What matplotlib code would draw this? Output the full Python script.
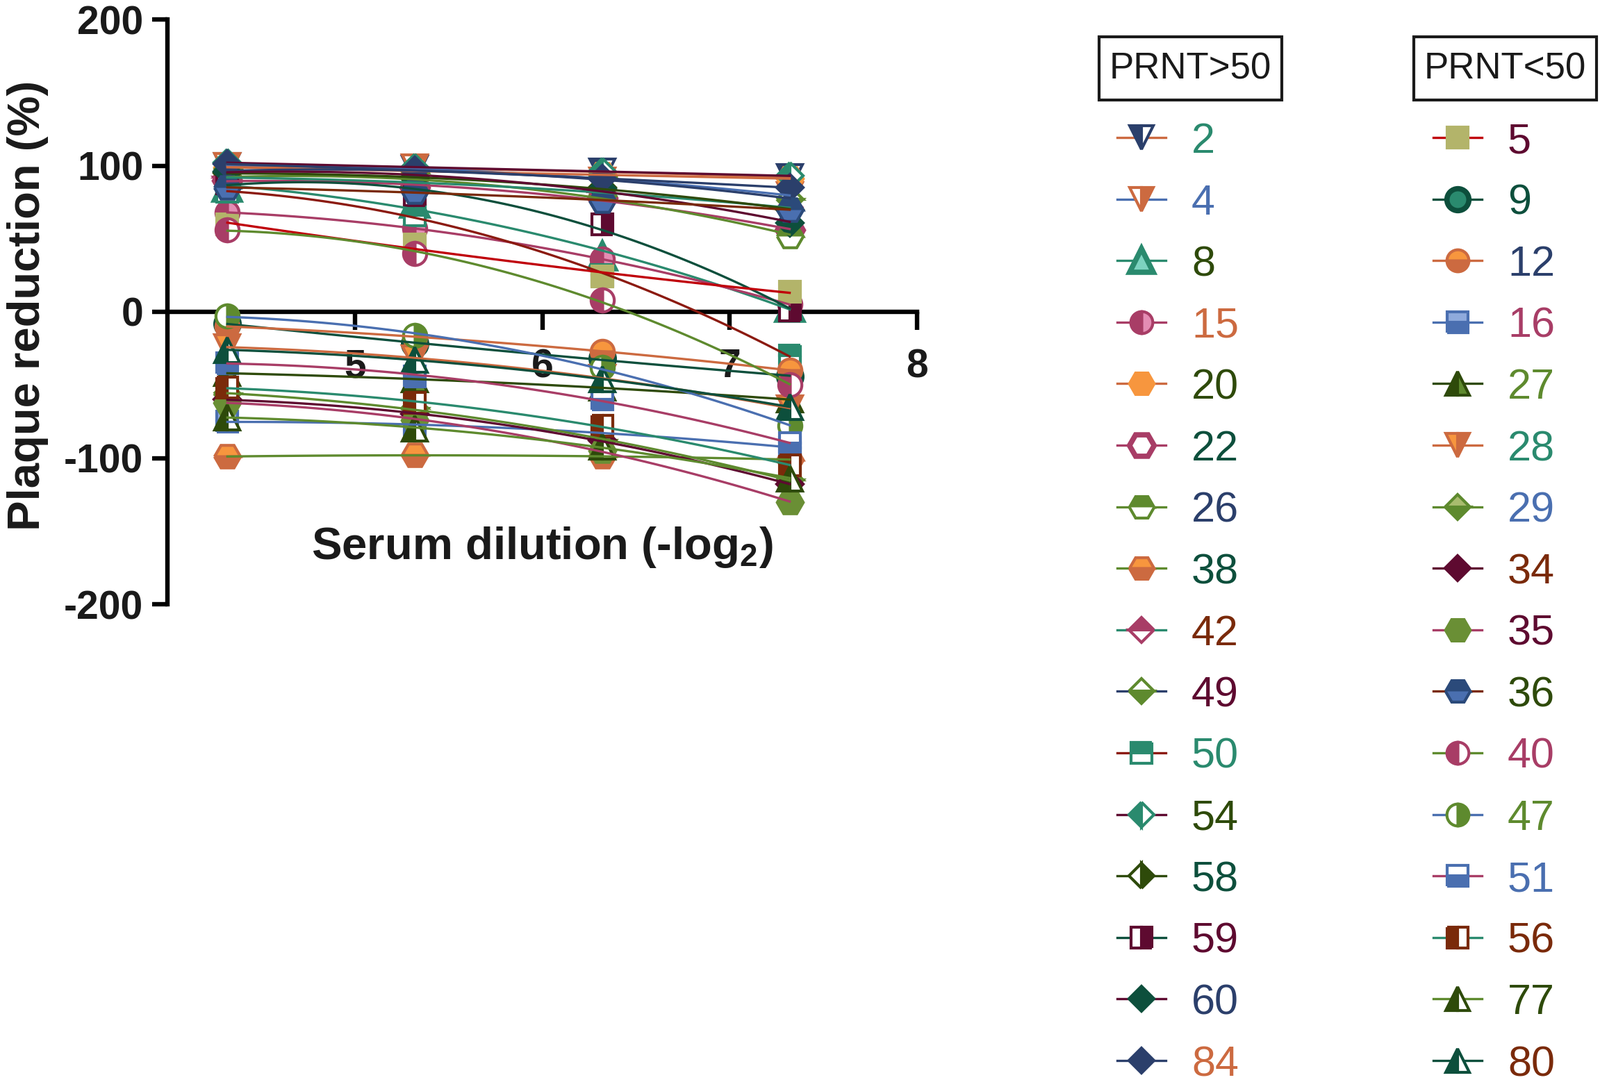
import numpy as np
import matplotlib
matplotlib.use("Agg")
import matplotlib.pyplot as plt
from matplotlib.patches import Rectangle

plt.rcParams['font.family'] = ['Liberation Sans', 'DejaVu Sans']
plt.rcParams['mathtext.fontset'] = 'custom'
plt.rcParams['mathtext.bf'] = 'Liberation Sans:bold'
plt.rcParams['mathtext.rm'] = 'Liberation Sans:bold'
plt.rcParams['axes.unicode_minus'] = False

# serum dilution (-log2) of 1:20, 1:40, 1:80, 1:160
dilution = [4.32, 5.32, 6.32, 7.32]

# PRNT>50 group
ids_gt50 = ['2', '4', '8', '15', '20', '22', '26', '38',
            '42', '49', '50', '54', '58', '59', '60', '84']
values_gt50 = [
    [100, 98, 96, 92],     # 2
    [100, 99, 90, 80],     # 4
    [85, 74, 38, 3],       # 8
    [68, 57, 36, 5],       # 15
    [99, 96, 94, 91],      # 20
    [90, 85, 78, 56],      # 22
    [93, 88, 80, 52],      # 26
    [-99, -98, -99, -101], # 38
    [92, 88, 82, 71],      # 42
    [97, 95, 92, 77],      # 49
    [82, 66, 25, -30],     # 50
    [102, 99, 96, 93],     # 54
    [95, 91, 85, 70],      # 58
    [88, 80, 60, 1],       # 59
    [96, 92, 84, 61],      # 60
    [101, 97, 91, 85],     # 84
]

# PRNT<50 group
ids_lt50 = ['5', '9', '12', '16', '27', '28', '29', '34',
            '35', '36', '40', '47', '51', '56', '77', '80']
values_lt50 = [
    [60, 46, 24, 14],      # 5
    [-8, -22, -32, -44],   # 9
    [-10, -17, -27, -40],  # 12
    [-75, -78, -82, -93],  # 16
    [-42, -46, -52, -60],  # 27
    [-24, -32, -45, -66],  # 28
    [-56, -66, -88, -115], # 29
    [-60, -70, -88, -118], # 34
    [-62, -74, -95, -130], # 35
    [85, 82, 76, 70],      # 36
    [56, 40, 8, -50],      # 40
    [-3, -16, -38, -78],   # 47
    [-35, -44, -60, -90],  # 51
    [-52, -62, -78, -105], # 56
    [-72, -80, -92, -114], # 77
    [-26, -33, -46, -65],  # 80
]

teal = '#2A8A6E'
dteal = '#0D4F3C'
navy = '#2B3F6B'
blue = '#4A6FB0'
orange = '#CC6A40'
lorange = '#F7963E'
pink = '#A83D66'
olive = '#5E8A2E'
dgreen = '#2E4A0A'
maroon = '#5E0A30'
brown = '#7A2A0A'
dred = '#8B1A10'
khaki = '#B3B46A'
red = '#C0000A'
W = 'white'

# marker, edge, face, face alt, fillstyle, line colour, label colour
style = {
    '2':  ('v', navy, navy, W, 'left', orange, teal),
    '4':  ('v', orange, orange, W, 'right', blue, blue),
    '8':  ('^', teal, '#7DD3C0', None, 'full', teal, dgreen),
    '15': ('o', pink, pink, '#E48DB4', 'left', pink, orange),
    '20': ('H', lorange, lorange, None, 'full', orange, dgreen),
    '22': ('H', pink, W, None, 'full', pink, dteal),
    '26': ('H', olive, olive, W, 'top', olive, navy),
    '38': ('H', orange, orange, lorange, 'bottom', olive, dteal),
    '42': ('D', pink, pink, W, 'top', teal, brown),
    '49': ('D', olive, olive, W, 'bottom', navy, maroon),
    '50': ('s', teal, teal, W, 'top', dred, teal),
    '54': ('D', teal, teal, W, 'left', maroon, dgreen),
    '58': ('D', dgreen, dgreen, W, 'right', dgreen, dteal),
    '59': ('s', maroon, maroon, W, 'right', dteal, maroon),
    '60': ('D', dteal, dteal, None, 'full', maroon, navy),
    '84': ('D', navy, navy, None, 'full', navy, orange),
    '5':  ('s', khaki, khaki, None, 'full', red, maroon),
    '9':  ('o', dteal, teal, None, 'full', dteal, dteal),
    '12': ('o', orange, orange, lorange, 'bottom', orange, navy),
    '16': ('s', blue, blue, '#8FAADC', 'bottom', blue, pink),
    '27': ('^', dgreen, dgreen, olive, 'left', dgreen, olive),
    '28': ('v', orange, orange, lorange, 'right', orange, teal),
    '29': ('D', olive, olive, '#A9BC6E', 'bottom', olive, blue),
    '34': ('D', maroon, maroon, None, 'full', maroon, brown),
    '35': ('H', '#6A8F35', '#6A8F35', None, 'full', pink, maroon),
    '36': ('H', '#2B4A7A', '#2B4A7A', blue, 'top', brown, dgreen),
    '40': ('o', pink, pink, W, 'left', olive, pink),
    '47': ('o', olive, olive, W, 'right', blue, olive),
    '51': ('s', blue, blue, W, 'bottom', pink, blue),
    '56': ('s', brown, brown, W, 'left', teal, brown),
    '77': ('^', dgreen, dgreen, W, 'left', olive, dgreen),
    '80': ('^', dteal, dteal, W, 'left', dteal, brown),
}
msize = {'s': 22, 'o': 24, '^': 26, 'v': 26, 'D': 19, 'H': 27}


def marker_kw(sid, scale=1.0):
    m, ec, fc, alt, fs, lc, tc = style[sid]
    kw = dict(marker=m, markersize=msize[m] * scale, markeredgecolor=ec,
              markerfacecolor=fc, fillstyle=fs, markeredgewidth=3)
    if alt is not None:
        kw['markerfacecoloralt'] = alt
    if fc == W or sid in ('8', '9'):
        kw['markeredgewidth'] = 5.5
    return kw


fig = plt.figure(figsize=(23.03, 15.68), dpi=100)
ax = fig.add_axes([241 / 2303, 1 - 870 / 1568, (1320 - 241) / 2303, (870 - 28) / 1568])

all_ids = ids_gt50 + ids_lt50
all_vals = values_gt50 + values_lt50
xx = np.linspace(dilution[0], dilution[-1], 120)
for sid, vals in zip(all_ids, all_vals):
    ax.plot(dilution, vals, linestyle='none', zorder=3, clip_on=False, **marker_kw(sid))
for sid, vals in zip(all_ids, all_vals):
    coef = np.polyfit(dilution, vals, 2)
    ax.plot(xx, np.polyval(coef, xx), color=style[sid][5], lw=2.4, zorder=4)

ax.set_xlim(4, 8)
ax.set_ylim(-200, 200)
for s in ['top', 'right']:
    ax.spines[s].set_visible(False)
ax.spines['bottom'].set_position(('data', 0))
ax.spines['left'].set_linewidth(4.6)
ax.spines['bottom'].set_linewidth(4.6)
ax.set_xticks([5, 6, 7, 8])
ax.set_xticks(np.arange(4.1, 8, 0.1), minor=True)
ax.set_yticks([-200, -100, 0, 100, 200])
ax.tick_params(axis='x', which='major', direction='out', length=18.5, width=4.6,
               pad=19, labelsize=41)
ax.tick_params(axis='x', which='minor', direction='out', length=2.5, width=1.2)
ax.tick_params(axis='y', direction='out', length=16, width=4.6, pad=9, labelsize=41)
for lab in ax.get_xticklabels() + ax.get_yticklabels():
    lab.set_fontweight('bold')
    lab.set_color('#1a1a1a')

ax.text(6.0, -169, r'Serum dilution (-log$_{\mathbf{2}}$)', ha='center', va='baseline',
        fontsize=47, fontweight='bold', color='#1a1a1a')
fig.text(40 / 2303, 1 - 440 / 1568, 'Plaque reduction (%)', rotation=90,
         ha='center', va='center', fontsize=47, fontweight='bold', color='#1a1a1a')

# legend panel, laid out in pixel units
lg = fig.add_axes([0, 0, 1, 1])
lg.set_xlim(0, 2303)
lg.set_ylim(1568, 0)
lg.axis('off')

columns = [(ids_gt50, 'PRNT>50', 1582, 1608), (ids_lt50, 'PRNT<50', 2035, 2063)]
for ids, title, box_x, line_x in columns:
    lg.add_patch(Rectangle((box_x, 53), 263, 91, fill=False, lw=3, ec='#1a1a1a'))
    lg.text(box_x + 131.5, 99, title, ha='center', va='center', fontsize=38, color='#1a1a1a')
    for i, sid in enumerate(ids):
        y = 198 + i * 88.6
        lg.plot([line_x, line_x + 70], [y, y], color=style[sid][5], lw=2.4, zorder=2)
        lg.plot([line_x + 35], [y], linestyle='none', zorder=3, **marker_kw(sid, 0.95))
        lg.text(line_x + 107, y + 22, sid, ha='left', va='baseline', fontsize=44,
                color=style[sid][6])

fig.savefig('out.png', dpi=100)
